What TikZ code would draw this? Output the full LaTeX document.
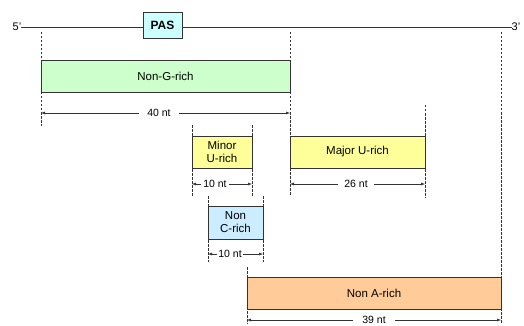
\documentclass[tikz,border=0pt]{standalone}
\usepackage{fontspec}
\setmainfont{Liberation Sans}
\usetikzlibrary{arrows.meta}
\definecolor{cgreen}{HTML}{CCFFCC}
\definecolor{cyellow}{HTML}{FFFF99}
\definecolor{cblue}{HTML}{CCECFF}
\definecolor{corange}{HTML}{FFCC99}
\definecolor{ccyan}{HTML}{CCFFFF}
\definecolor{cline}{HTML}{333333}
\tikzset{
  region/.style={draw=cline, line width=0.8pt, font=\fontsize{11.5}{13}\selectfont, align=center, inner sep=0pt},
  guide/.style={draw=cline, line width=0.6pt, dash pattern=on 2.5pt off 1.5pt},
  span/.style={draw=cline, line width=0.5pt, {Latex[length=4pt,width=3pt]}-{Latex[length=4pt,width=3pt]}},
  spanlbl/.style={fill=white, inner ysep=1pt, font=\fontsize{10.5}{12}\selectfont},
  endlbl/.style={font=\fontsize{11}{12}\selectfont, inner sep=0pt}
}
\begin{document}
\begin{tikzpicture}[x=1pt,y=-1pt]
\useasboundingbox (0,0) rectangle (524,326);
% main line
\node[endlbl] (five) at (17,27) {5'};
\node[endlbl] (three) at (516,27) {3'};
\draw[cline, line width=0.8pt] (five.east) -- (three.west);
\node[draw=cline, line width=0.8pt, fill=ccyan, minimum width=39pt, minimum height=26pt, inner sep=0pt, font=\bfseries\fontsize{12}{14}\selectfont] (pas) at (162.5,25) {PAS};
% boxes
\node[region, fill=cgreen, minimum width=249pt, minimum height=32pt] (ng) at (165.5,76) {Non-G-rich};
\node[region, fill=cyellow, minimum width=60pt, minimum height=32pt] (minu) at (222,152) {Minor\\U-rich};
\node[region, fill=cyellow, minimum width=135pt, minimum height=32pt] (maju) at (357.5,152) {Major U-rich};
\node[region, fill=cblue, minimum width=55pt, minimum height=33pt] (nc) at (235.5,222.5) {Non\\C-rich};
\node[region, fill=corange, minimum width=254pt, minimum height=32pt] (na) at (374,293) {Non A-rich};
% guide lines
\coordinate (g1a) at (41,32); \coordinate (g1b) at (41,126);
\coordinate (g2a) at (290,32); \coordinate (g2b) at (290,196);
\coordinate (g3a) at (501,32); \coordinate (g3b) at (501,324);
\coordinate (g4a) at (192,125); \coordinate (g4b) at (192,196);
\coordinate (g5a) at (252,125); \coordinate (g5b) at (252,196);
\coordinate (g6a) at (425,105); \coordinate (g6b) at (425,198);
\coordinate (g7a) at (208,196); \coordinate (g7b) at (208,262);
\coordinate (g8a) at (263,196); \coordinate (g8b) at (263,262);
\coordinate (g9a) at (247,267); \coordinate (g9b) at (247,324);
\foreach \g in {1,...,9} {\draw[guide] (g\g a) -- (g\g b);}
% spans
\coordinate (s1a) at (41,113); \coordinate (s1b) at (290,113);
\draw[span] (s1a) -- (s1b);
\node[spanlbl, inner xsep=8pt] (l1) at (159,113) {40 nt};
\coordinate (s2a) at (192,184); \coordinate (s2b) at (252,184);
\draw[span] (s2a) -- (s2b);
\node[spanlbl, inner xsep=2pt] (l2) at (215,184) {10 nt};
\coordinate (s3a) at (290,184); \coordinate (s3b) at (425,184);
\draw[span] (s3a) -- (s3b);
\node[spanlbl, inner xsep=6pt] (l3) at (356,184) {26 nt};
\coordinate (s4a) at (208,254); \coordinate (s4b) at (263,254);
\draw[span] (s4a) -- (s4b);
\node[spanlbl, inner xsep=1pt] (l4) at (230,254) {10 nt};
\coordinate (s5a) at (247,320); \coordinate (s5b) at (501,320);
\draw[span] (s5a) -- (s5b);
\node[spanlbl, inner xsep=9pt] (l5) at (374,320) {39 nt};
\end{tikzpicture}
\end{document}
